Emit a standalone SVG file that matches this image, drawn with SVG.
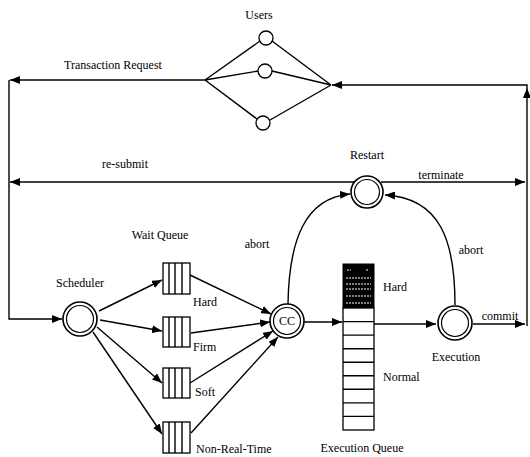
<svg xmlns="http://www.w3.org/2000/svg" width="530" height="457" viewBox="0 0 530 457" font-family="'Liberation Serif', 'Times New Roman', serif">
<style>
text{font-family:'Liberation Serif','Times New Roman',serif;font-size:12px;fill:#000}
.c{text-anchor:middle}
.ln{fill:none;stroke:#000;stroke-width:1.4}
.ar{fill:none;stroke:#000;stroke-width:1.4;marker-end:url(#ah)}
.o{fill:#fff;stroke:#000;stroke-width:1.6}
.i{fill:none;stroke:#000;stroke-width:1.2}
.q{fill:#fff;stroke:#000;stroke-width:1.3}
.s{fill:none;stroke:#fff;stroke-width:1.2;stroke-dasharray:2 1}
</style>
<defs>
<marker id="ah" markerWidth="10" markerHeight="8" refX="10" refY="4" orient="auto" markerUnits="userSpaceOnUse"><path d="M0,0 L10,4 L0,8 z" fill="#000"/></marker>
</defs>
<rect width="530" height="457" fill="#fff"/>
<g id="connectors">
<path class="ln" d="M205,80 L260,41 M205,80 L258,71 M205,80 L257,119 M272,41 L331,85 M272,71 L331,85 M270,120 L331,85"/>
<path class="ar" d="M205,80 H10"/>
<path class="ar" d="M9,80 V319 H62"/>
<path class="ar" d="M354,182 H10"/>
<path class="ar" d="M381,182 H525"/>
<path class="ar" d="M473,324 H525"/>
<path class="ar" d="M527,326 V88"/>
<path class="ar" d="M527,88 V85 H332"/>
<path class="ar" d="M99,311 L162,280"/>
<path class="ar" d="M100,320 L162,331"/>
<path class="ar" d="M97,327 L162,383"/>
<path class="ar" d="M93,332 L162,434"/>
<path class="ar" d="M190,275 L271,314"/>
<path class="ar" d="M191,333 L270,322"/>
<path class="ar" d="M190,383 L273,331"/>
<path class="ar" d="M191,433 L278,337"/>
<path class="ar" d="M304,322 H342"/>
<path class="ar" d="M374,324 H436"/>
<path class="ar" d="M288,304 C289,240 305,198 350,194"/>
<path class="ar" d="M455,305 C455,240 440,198 385,195"/>
</g>
<g id="users">
<text class="c" x="259" y="19">Users</text>
<circle class="q" cx="266" cy="38" r="7"/>
<circle class="q" cx="265" cy="71" r="7"/>
<circle class="q" cx="263" cy="123" r="7"/>
</g>
<g id="labels">
<text class="c" x="113" y="69">Transaction Request</text>
<text class="c" x="125" y="168">re-submit</text>
<text class="c" x="441" y="179">terminate</text>
<text class="c" x="257" y="248">abort</text>
<text class="c" x="471" y="254">abort</text>
<text class="c" x="500" y="320">commit</text>
</g>
<g id="restart">
<text class="c" x="367" y="159">Restart</text>
<circle class="o" cx="367" cy="192" r="16"/>
<circle class="i" cx="367" cy="192" r="12.5"/>
</g>
<g id="scheduler">
<text class="c" x="80" y="287">Scheduler</text>
<circle class="o" cx="80" cy="319" r="17"/>
<circle class="i" cx="80" cy="319" r="13.5"/>
</g>
<g id="wait-queue">
<text class="c" x="160" y="239">Wait Queue</text>
</g>
<g id="queue-hard">
<rect class="q" x="163" y="263" width="27" height="31"/>
<path class="ln" d="M169,263 V294 M175,263 V294 M182,263 V294"/>
<text x="193" y="306">Hard</text>
</g>
<g id="queue-firm">
<rect class="q" x="163" y="317" width="27" height="30"/>
<path class="ln" d="M169,317 V347 M175,317 V347 M182,317 V347"/>
<text x="193" y="351">Firm</text>
</g>
<g id="queue-soft">
<rect class="q" x="163" y="368" width="27" height="30"/>
<path class="ln" d="M169,368 V398 M175,368 V398 M182,368 V398"/>
<text x="195" y="396">Soft</text>
</g>
<g id="queue-nrt">
<rect class="q" x="163" y="422" width="27" height="31"/>
<path class="ln" d="M169,422 V453 M175,422 V453 M182,422 V453"/>
<text x="196" y="453">Non-Real-Time</text>
</g>
<g id="cc">
<circle class="o" cx="287" cy="321" r="17"/>
<circle class="i" cx="287" cy="321" r="13.5"/>
<text class="c" x="287" y="325">CC</text>
</g>
<g id="execution-queue">
<rect x="343" y="264" width="31" height="44" fill="#000" stroke="#000"/>
<path class="s" d="M347,270 H351 M366,270 H368 M346,278 H371 M346,284 H371 M346,289 H371 M346,296 H371 M346,303 H371"/>
<rect class="q" x="343" y="308" width="31" height="122"/>
<path class="ln" d="M343,321.6 H374 M343,335.1 H374 M343,348.7 H374 M343,362.2 H374 M343,375.8 H374 M343,389.3 H374 M343,402.9 H374 M343,416.4 H374"/>
<text x="383" y="291">Hard</text>
<text x="383" y="381">Normal</text>
<text class="c" x="362" y="452">Execution Queue</text>
</g>
<g id="execution">
<circle class="o" cx="455" cy="323" r="17"/>
<circle class="i" cx="455" cy="323" r="13.5"/>
<text class="c" x="456" y="361">Execution</text>
</g>
</svg>
